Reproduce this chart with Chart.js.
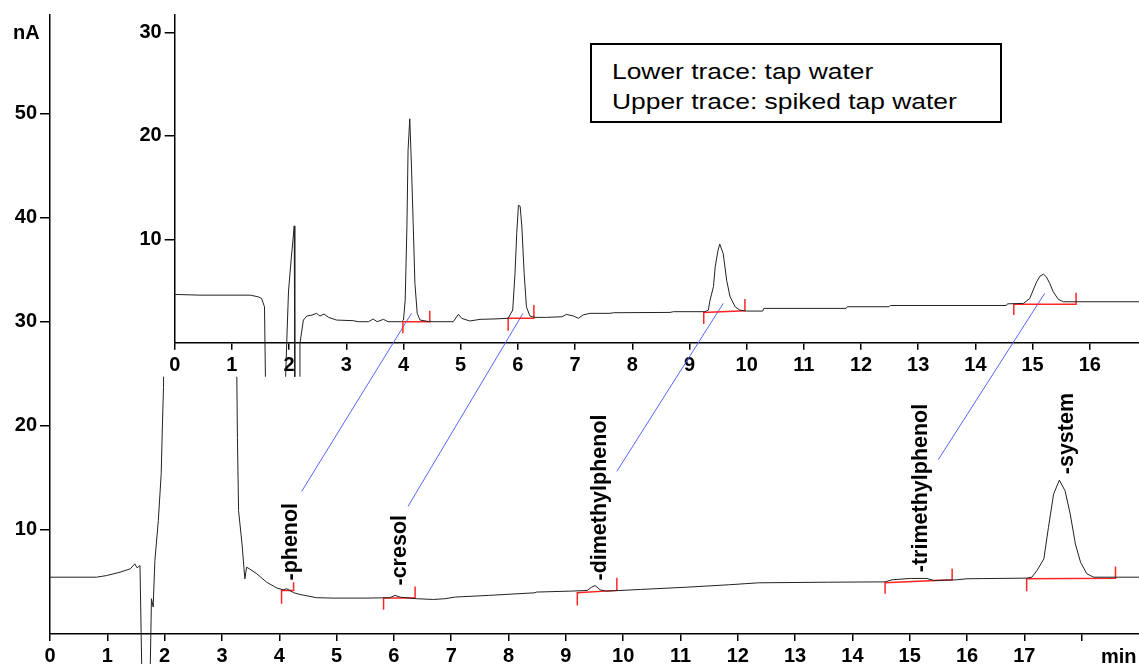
<!DOCTYPE html>
<html>
<head>
<meta charset="utf-8">
<title>Chromatogram: tap water / spiked tap water</title>
<script src="https://cdn.jsdelivr.net/npm/chart.js@4.4.1/dist/chart.umd.min.js"></script>
<style>
  body { margin: 0; background: #fff; }
  #wrap { position: relative; width: 1139px; height: 664px; overflow: hidden;
          font-family: "Liberation Sans", Arial, sans-serif; }
  #wrap canvas { position: absolute; left: 0; top: 0; }
  .unit { position: absolute; font-weight: bold; font-size: 20px; line-height: 20px; color: #000; }
  #legend { position: absolute; left: 590px; top: 43px; width: 412px; height: 80px;
            box-sizing: border-box; border: 2px solid #000; background: #fff; }
  #legend div { position: absolute; left: 20px; font-size: 22px; line-height: 22px;
                white-space: nowrap; transform: scaleX(1.2); transform-origin: left top; }
</style>
</head>
<body>
<div id="wrap">
  <canvas id="lower" width="1139" height="664"></canvas>
  <canvas id="upper" width="1139" height="664"></canvas>
  <div class="unit" style="left:13px; top:22px;">nA</div>
  <div class="unit" style="left:1101px; top:646px;">min</div>
  <div id="legend">
    <div style="top:16px;">Lower trace: tap water</div>
    <div style="top:46px;">Upper trace: spiked tap water</div>
  </div>
</div>
<script>
// lower trace: tap water (min, nA)
const lowerTime = [0, 0.81, 0.99, 1.22, 1.40, 1.48, 1.52, 1.57, 1.60, 1.75, 1.77, 1.80, 1.83, 1.89, 1.94, 1.96, 1.98,
  2.01, 2.05, 3.20, 3.25, 3.27, 3.29, 3.35, 3.40, 3.43, 3.48, 3.61, 3.78, 3.96, 4.07, 4.13, 4.25, 4.36, 4.65, 4.94,
  5.53, 5.93, 6.02, 6.11, 6.40, 6.69, 6.89, 7.07, 7.65, 8.46, 8.49, 9.07, 9.37, 9.45, 9.51, 9.60, 9.71, 10.30, 11.11,
  11.84, 12.36, 13.58, 14.57, 14.69, 15.01, 15.30, 15.42, 15.82, 16.00, 17.04, 17.13, 17.22, 17.34, 17.42, 17.51,
  17.61, 17.71, 17.80, 17.89, 17.98, 18.09, 18.21, 19.00];
const lowerSignal = [5.46, 5.46, 5.62, 5.94, 6.26, 6.74, 6.36, 6.58, -3, -3, 3.39, 2.59, 7.06, 10.9, 15.4, 19.8, 23.7,
  40, 70, 70, 30, 18.9, 11.85, 8.66, 5.3, 6.42, 6.26, 5.78, 4.98, 4.41, 4.25, 4.35, 3.97, 3.80, 3.49, 3.45,
  3.45, 3.49, 3.71, 3.54, 3.39, 3.32, 3.39, 3.55, 3.71, 3.96, 4.03, 4.12, 4.18, 4.50, 4.66, 4.24, 4.12, 4.28, 4.50,
  4.73, 4.92, 4.98, 5.01, 5.21, 5.34, 5.34, 5.14, 5.21, 5.31, 5.37, 5.46, 6.10, 7.22, 10.25, 13.45,
  14.79, 13.76, 11.53, 8.66, 6.9, 5.79, 5.46, 5.46];

// upper trace: spiked tap water (min, nA)
const upperTime = [0, 0.44, 1.32, 1.46, 1.52, 1.57, 1.59, 1.93, 1.96, 1.99, 2.04, 2.09, 2.10, 2.18, 2.19, 2.25, 2.31,
  2.40, 2.48, 2.54, 2.61, 2.69, 2.83, 3.12, 3.21, 3.39, 3.47, 3.54, 3.65, 3.73, 3.97, 4.00, 4.03, 4.06, 4.08, 4.11,
  4.14, 4.17, 4.20, 4.24, 4.29, 4.46, 4.87, 4.96, 5.02, 5.16, 5.34, 5.60, 5.83, 5.91, 5.95, 5.98, 6.01, 6.04, 6.07,
  6.11, 6.15, 6.21, 6.30, 6.50, 6.77, 6.85, 6.97, 7.06, 7.14, 7.26, 7.61, 7.67, 8.66, 8.72, 9.27, 9.33, 9.36, 9.42,
  9.45, 9.50, 9.53, 9.59, 9.65, 9.71, 9.80, 9.88, 10.00, 10.28, 10.30, 11.74, 11.76, 12.49, 12.51, 14.54, 14.56,
  14.84, 14.95, 15.01, 15.07, 15.13, 15.19, 15.24, 15.30, 15.36, 15.45, 15.54, 16.86];
const upperSignal = [4.67, 4.6, 4.6, 4.44, 4.28, 3.47, -5, -5, 0.26, 5, 8.3, 11.3, -5, -5, -0.06, 2.19, 2.58,
  2.67, 2.84, 2.58, 2.77, 2.45, 2.19, 2.13, 2.03, 2.03, 2.29, 2.03, 2.26, 2.03, 2.03, 2.19, 4.12, 11.2, 18.6, 21.66,
  17.0, 11.5, 5.73, 2.84, 2.19, 2.03, 2.03, 2.74, 2.35, 2.1, 2.26, 2.3, 2.36, 3.16, 6.70, 10.56, 13.29, 13.2, 11.2,
  6.70, 3.47, 2.58, 2.45, 2.45, 2.51, 2.74, 2.58, 2.36, 2.68, 2.84, 2.84, 2.9, 2.93, 3.0, 3.0, 3.15, 4.12, 5.43,
  7.34, 8.95, 9.53, 8.63, 6.05, 4.44, 3.47, 3.15, 3.06, 3.06, 3.32, 3.32, 3.48, 3.48, 3.6, 3.6, 3.76,
  3.80, 4.28, 5.09, 5.89, 6.44, 6.63, 6.37, 5.73, 4.92, 4.19, 3.96, 3.96];

// tick values
const lowerXTicks = [0, 1, 2, 3, 4, 5, 6, 7, 8, 9, 10, 11, 12, 13, 14, 15, 16, 17, 18];
const lowerXLabels = ['0', '1', '2', '3', '4', '5', '6', '7', '8', '9', '10', '11', '12', '13', '14', '15', '16', '17', ''];
const lowerYTicks = [10, 20, 30, 40, 50];
const upperXTicks = [0, 1, 2, 3, 4, 5, 6, 7, 8, 9, 10, 11, 12, 13, 14, 15, 16];
const upperYTicks = [10, 20, 30];

// peak names and where their labels stand on the lower trace
const peakNames = ['phenol', 'cresol', 'dimethylphenol', 'trimethylphenol', 'system'];
const labelTime = [4.21, 6.11, 9.60, 15.20, 17.74];
const labelSignal = [5.14, 4.66, 5.14, 5.94, 15.36];

// integration marks, lower trace
const lowStart = [4.04, 5.82, 9.20, 14.57, 17.04];
const lowEnd = [4.25, 6.37, 9.89, 15.74, 18.59];
const lowBaseStart = [4.19, 3.45, 3.96, 4.92, 5.31];
const lowBaseEnd = [4.19, 3.45, 4.19, 5.21, 5.37];
const lowTickDown = [2.91, 2.34, 2.75, 3.87, 4.12];
const lowTickUp = [4.98, 4.57, 5.40, 6.26, 6.48];

// integration marks, upper trace
const upStart = [3.99, 5.83, 9.25, 14.67];
const upEnd = [4.46, 6.28, 9.97, 15.76];
const upBaseStart = [2.03, 2.36, 2.93, 3.71];
const upBaseEnd = [2.03, 2.36, 3.09, 3.71];
const upTickDown = [0.91, 1.16, 1.80, 2.67];
const upTickUp = [3.09, 3.64, 4.22, 4.83];

// blue links from the lower labels to the upper peaks (upper-axis units)
const linkFromTime = [2.22, 4.08, 7.73, 13.35];
const linkFromSignal = [-14.38, -15.83, -12.45, -11.32];
const linkToTime = [4.14, 6.09, 9.59, 15.21];
const linkToSignal = [2.84, 2.84, 3.80, 4.77];

const FONT = '"Liberation Sans", Arial, sans-serif';
Chart.defaults.font.family = FONT;
Chart.defaults.font.size = 20;
Chart.defaults.font.weight = 'bold';
Chart.defaults.color = '#000';

function toPoints(xs, ys) {
  return xs.map((x, i) => ({ x: x, y: ys[i] }));
}

function markPoints(start, end, b0, b1, lo, hi) {
  const pts = [];
  start.forEach((s, i) => {
    pts.push({ x: s, y: lo[i] }, { x: s, y: b0[i] }, { x: end[i], y: b1[i] },
             { x: end[i], y: hi[i] }, { x: end[i], y: null });
  });
  return pts;
}

function linkPoints() {
  const pts = [];
  linkFromTime.forEach((t, i) => {
    pts.push({ x: t, y: linkFromSignal[i] }, { x: linkToTime[i], y: linkToSignal[i] },
             { x: linkToTime[i], y: null });
  });
  return pts;
}

function axis(min, max, tickValues, extra) {
  return Object.assign({
    type: 'linear', min: min, max: max,
    afterBuildTicks: s => { s.ticks = tickValues.map(v => ({ value: v })); },
    grid: { drawOnChartArea: false, tickLength: 10, color: '#000', lineWidth: 1.5 },
    border: { color: '#000', width: 1.5 },
    ticks: { autoSkip: false, maxRotation: 0, padding: 3 }
  }, extra);
}

// rotated peak names on the lower trace
const peakLabels = {
  id: 'peakLabels',
  afterDatasetsDraw(chart) {
    const ctx = chart.ctx;
    ctx.save();
    ctx.font = 'bold 21.5px ' + FONT;
    ctx.fillStyle = '#000';
    ctx.textAlign = 'left';
    ctx.textBaseline = 'middle';
    peakNames.forEach((name, i) => {
      const x = chart.scales.x.getPixelForValue(labelTime[i]);
      const y = chart.scales.y.getPixelForValue(labelSignal[i]);
      ctx.save();
      ctx.translate(x, y);
      ctx.rotate(-Math.PI / 2);
      ctx.fillText('-' + name, 0, 0);
      ctx.restore();
    });
    ctx.restore();
  }
};

// the inset hides the lower trace behind it
const insetBackground = {
  id: 'insetBackground',
  beforeDraw(chart) {
    const a = chart.chartArea;
    chart.ctx.save();
    chart.ctx.fillStyle = '#fff';
    chart.ctx.fillRect(a.left - 55, 0, a.right - a.left + 55, a.bottom + 34);
    chart.ctx.restore();
  }
};

new Chart(document.getElementById('lower'), {
  type: 'line',
  data: {
    datasets: [
      { data: toPoints(lowerTime, lowerSignal), borderColor: '#222', borderWidth: 1, pointRadius: 0,
        clip: { left: 0, top: 0, right: 0, bottom: 32 } },
      { data: markPoints(lowStart, lowEnd, lowBaseStart, lowBaseEnd, lowTickDown, lowTickUp),
        borderColor: '#ff2626', borderWidth: 1.5, pointRadius: 0, spanGaps: false }
    ]
  },
  options: {
    responsive: false, animation: false, events: [],
    layout: { padding: { top: 12, right: 0, bottom: 0, left: 0 } },
    plugins: { legend: { display: false }, tooltip: { enabled: false } },
    scales: {
      x: axis(0, 19, lowerXTicks, {
        afterFit: s => { s.height = 30; },
        grid: { drawOnChartArea: false, tickLength: 7, color: '#000', lineWidth: 1.5 },
        ticks: { autoSkip: false, maxRotation: 0, padding: 3,
                 callback: (v, i) => lowerXLabels[i] }
      }),
      y: axis(0, 59.5, lowerYTicks, {
        afterFit: s => { s.width = 50; },
        ticks: { padding: 3 }
      })
    }
  },
  plugins: [peakLabels]
});

new Chart(document.getElementById('upper'), {
  type: 'line',
  data: {
    datasets: [
      { data: toPoints(upperTime, upperSignal), borderColor: '#222', borderWidth: 1, pointRadius: 0,
        clip: { left: 0, top: 0, right: 0, bottom: 34 } },
      { data: markPoints(upStart, upEnd, upBaseStart, upBaseEnd, upTickDown, upTickUp),
        borderColor: '#ff2626', borderWidth: 1.5, pointRadius: 0, spanGaps: false, clip: false },
      { data: linkPoints(), borderColor: '#5566ff', borderWidth: 1, pointRadius: 0,
        spanGaps: false, clip: false }
    ]
  },
  options: {
    responsive: false, animation: false, events: [],
    layout: { padding: { top: 14.7, right: 0, bottom: 0, left: 0 } },
    plugins: { legend: { display: false }, tooltip: { enabled: false } },
    scales: {
      x: axis(0, 16.86, upperXTicks, {
        afterFit: s => { s.height = 664 - 342.7; },
        grid: { drawOnChartArea: false, tickLength: 7, color: '#000', lineWidth: 1.5 },
        ticks: { autoSkip: false, maxRotation: 0, padding: 4 }
      }),
      y: axis(0, 31.7, upperYTicks, {
        afterFit: s => { s.width = 174.7; },
        ticks: { padding: 3 }
      })
    }
  },
  plugins: [insetBackground]
});
</script>
</body>
</html>
